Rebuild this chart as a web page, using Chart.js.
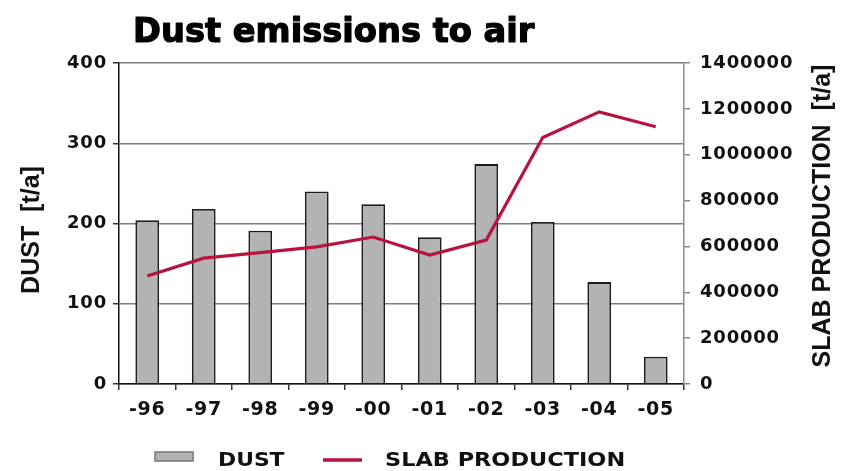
<!DOCTYPE html>
<html>
<head>
<meta charset="utf-8">
<script src="https://cdn.jsdelivr.net/npm/chart.js@4/dist/chart.umd.min.js"></script>
<style>
  html, body { margin: 0; padding: 0; background: #ffffff; }
  #wrap { width: 842px; height: 471px; position: relative; }
</style>
</head>
<body>
<div id="wrap"><canvas id="c" width="842" height="471"></canvas></div>
<script>
// ---- data ----
const years = ['-96', '-97', '-98', '-99', '-00', '-01', '-02', '-03', '-04', '-05'];
const dust = [204, 218, 191, 240, 224, 183, 274, 202, 127, 34];
const slabProduction = [471000, 549000, 573000, 598000, 641000, 562000, 628000, 1075000, 1187000, 1122000];
const dustTicks = [0, 100, 200, 300, 400];
const slabTicks = [0, 200000, 400000, 600000, 800000, 1000000, 1200000, 1400000];

const titleText = 'Dust emissions to air';
const leftTitle = 'DUST  [t/a]';
const rightTitle = 'SLAB PRODUCTION  [t/a]';
const dustLabel = 'DUST';
const slabLabel = 'SLAB PRODUCTION';

const TXT = '#111111';
const BAR_FILL = '#b3b3b3';
const BAR_EDGE = '#1c1c1c';
const LINE_COL = '#b8123f';
const GRID_COL = '#7c7c7c';

function drawText(ctx, text, x, y, o) {
  ctx.save();
  ctx.font = o.font;
  ctx.fillStyle = o.color || TXT;
  ctx.textAlign = o.align || 'left';
  ctx.textBaseline = o.baseline || 'alphabetic';
  ctx.translate(x, y);
  if (o.rotate) ctx.rotate(o.rotate);
  ctx.scale(o.sx || 1, 1);
  if (o.stroke) {
    ctx.strokeStyle = o.color || TXT;
    ctx.lineWidth = o.stroke;
    ctx.lineJoin = 'round';
    ctx.strokeText(text, 0, 0);
  }
  ctx.fillText(text, 0, 0);
  ctx.restore();
}

const decor = {
  id: 'decor',
  beforeDraw(chart) { chart.ctx.letterSpacing = '0.8px'; },
  beforeDatasetsDraw(chart) { chart.ctx.letterSpacing = '0px'; },
  afterDraw(chart) {
    const ctx = chart.ctx;
    ctx.letterSpacing = '0px';
    // title
    drawText(ctx, titleText, 133, 42, { font: 'bold 33px "DejaVu Sans"', sx: 1.02, stroke: 1.2, color: '#000000' });
    // axis titles (both read bottom to top)
    drawText(ctx, leftTitle, 32, 230, { font: 'bold 25px "Liberation Sans"', align: 'center', baseline: 'middle', rotate: -Math.PI / 2 });
    drawText(ctx, rightTitle, 823, 216, { font: 'bold 25px "Liberation Sans"', align: 'center', baseline: 'middle', rotate: -Math.PI / 2 });
    // legend
    const barDs = chart.data.datasets[1];
    const lineDs = chart.data.datasets[0];
    ctx.save();
    ctx.fillStyle = barDs.backgroundColor;
    ctx.strokeStyle = '#777777';
    ctx.lineWidth = 1.5;
    ctx.fillRect(155, 452, 38, 9);
    ctx.strokeRect(155, 452, 38, 9);
    ctx.strokeStyle = lineDs.borderColor;
    ctx.lineWidth = 3.5;
    ctx.beginPath();
    ctx.moveTo(323, 460);
    ctx.lineTo(362, 460);
    ctx.stroke();
    ctx.restore();
    drawText(ctx, barDs.label, 218, 461, { font: 'bold 19px "DejaVu Sans"', baseline: 'middle', sx: 1.15 });
    drawText(ctx, lineDs.label, 385, 461, { font: 'bold 19px "DejaVu Sans"', baseline: 'middle', sx: 1.18 });
  }
};

new Chart(document.getElementById('c'), {
  data: {
    labels: years,
    datasets: [
      {
        type: 'line',
        label: slabLabel,
        data: slabProduction,
        yAxisID: 'y1',
        borderColor: LINE_COL,
        backgroundColor: LINE_COL,
        borderWidth: 3.2,
        pointRadius: 0,
        tension: 0,
        order: 1
      },
      {
        type: 'bar',
        label: dustLabel,
        data: dust,
        yAxisID: 'y',
        backgroundColor: BAR_FILL,
        borderColor: BAR_EDGE,
        borderWidth: 1.8,
        barPercentage: 0.42,
        categoryPercentage: 1.0,
        order: 2
      }
    ]
  },
  options: {
    responsive: false,
    animation: false,
    devicePixelRatio: 1,
    layout: { padding: { top: 63, left: 0, right: 0, bottom: 0 } },
    plugins: {
      legend: { display: false },
      title: { display: false },
      tooltip: { enabled: false }
    },
    scales: {
      x: {
        position: 'bottom',
        offset: true,
        grid: { display: true, drawOnChartArea: false, drawTicks: true, tickLength: 6, color: '#333333', lineWidth: 1.5, offset: true },
        border: { display: true, color: '#111111', width: 1.5 },
        ticks: { color: TXT, font: { family: 'DejaVu Sans', size: 19, weight: 'bold' }, padding: 9, maxRotation: 0, autoSkip: false },
        afterFit(s) { s.height = 87; }
      },
      y: {
        position: 'left',
        min: dustTicks[0],
        max: dustTicks[dustTicks.length - 1],
        afterBuildTicks(s) { s.ticks = dustTicks.map(v => ({ value: v })); },
        grid: { color: GRID_COL, lineWidth: 1.5, tickLength: 6, tickColor: '#333333', drawTicks: true },
        border: { display: true, color: '#111111', width: 1.5 },
        ticks: { color: TXT, font: { family: 'DejaVu Sans', size: 18, weight: 'bold' }, padding: 6, callback: v => String(v) },
        afterFit(s) { s.width = 119; }
      },
      y1: {
        position: 'right',
        min: slabTicks[0],
        max: slabTicks[slabTicks.length - 1],
        afterBuildTicks(s) { s.ticks = slabTicks.map(v => ({ value: v })); },
        grid: { drawOnChartArea: false, tickLength: 6, tickColor: '#888888', lineWidth: 1.5, drawTicks: true },
        border: { display: true, color: '#8a8a8a', width: 1.5 },
        ticks: { color: TXT, font: { family: 'DejaVu Sans', size: 18, weight: 'bold' }, padding: 10, callback: v => String(v) },
        afterFit(s) { s.width = 158; }
      }
    }
  },
  plugins: [decor]
});
</script>
</body>
</html>
